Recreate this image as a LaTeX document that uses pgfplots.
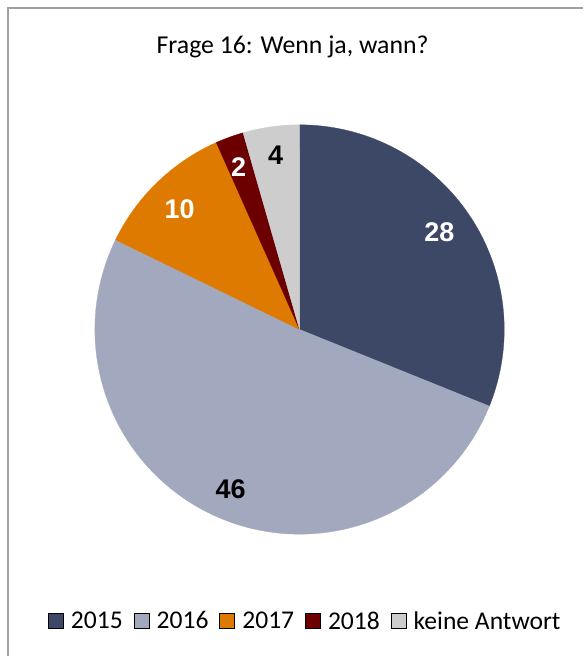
\documentclass[border=0pt]{standalone}
\usepackage{pgfplots}
\pgfplotsset{compat=1.18}
\usepackage{fontspec}
\setmainfont{Carlito}
\newfontfamily\labfont{Liberation Sans}
\definecolor{cA}{HTML}{3C4866}
\definecolor{cB}{HTML}{A2A8BE}
\definecolor{cC}{HTML}{DF7A00}
\definecolor{cD}{HTML}{6C0000}
\definecolor{cE}{HTML}{CDCDCD}
\definecolor{frame}{HTML}{A0A0A0}
% values
\def\vA{28}\def\vB{46}\def\vC{10}\def\vD{2}\def\vE{4}
\pgfmathsetmacro\tot{\vA+\vB+\vC+\vD+\vE}
\pgfmathsetmacro\aA{90}
\pgfmathsetmacro\aB{\aA-(\vA/\tot)*360}
\pgfmathsetmacro\aC{\aB-(\vB/\tot)*360}
\pgfmathsetmacro\aD{\aC-(\vC/\tot)*360}
\pgfmathsetmacro\aE{\aD-(\vD/\tot)*360}
\pgfmathsetmacro\aF{\aE-(\vE/\tot)*360}
\def\cx{300}\def\cy{330}\def\R{205}
\begin{document}
\begin{tikzpicture}
\begin{axis}[width=584pt,height=657pt,scale only axis,
  xmin=0,xmax=584,ymin=0,ymax=657,y dir=reverse,hide axis,clip=false,
  legend columns=5,
  legend image code/.code={\fill[#1] (0pt,-7.5pt) rectangle (15pt,7.5pt);},
  legend style={draw=none,fill=none,inner sep=0pt,at={(axis cs:48,622)},anchor=west,
    font=\fontsize{25.6}{30}\selectfont,
    nodes={inner sep=0pt},
    /tikz/every odd column/.append style={column sep=7.5pt},
    /tikz/every even column/.append style={column sep=11pt}},
]
\addplot[forget plot,draw=none] coordinates {(0,0) (584,657)};
\addplot[forget plot,draw=frame,line width=2pt] coordinates {(8,657) (8,8) (584,8)};
\addplot[forget plot,fill=cA,draw=cA,line width=0.3pt,domain=\aB:\aA,samples=80,variable=\t]
  ({\cx+\R*cos(\t)},{\cy-\R*sin(\t)}) -- (axis cs:\cx,\cy) -- cycle;
\addplot[forget plot,fill=cB,draw=cB,line width=0.3pt,domain=\aC:\aB,samples=120,variable=\t]
  ({\cx+\R*cos(\t)},{\cy-\R*sin(\t)}) -- (axis cs:\cx,\cy) -- cycle;
\addplot[forget plot,fill=cC,draw=cC,line width=0.3pt,domain=\aD:\aC,samples=40,variable=\t]
  ({\cx+\R*cos(\t)},{\cy-\R*sin(\t)}) -- (axis cs:\cx,\cy) -- cycle;
\addplot[forget plot,fill=cD,draw=cD,line width=0.3pt,domain=\aE:\aD,samples=12,variable=\t]
  ({\cx+\R*cos(\t)},{\cy-\R*sin(\t)}) -- (axis cs:\cx,\cy) -- cycle;
\addplot[forget plot,fill=cE,draw=cE,line width=0.3pt,domain=\aF:\aE,samples=20,variable=\t]
  ({\cx+\R*cos(\t)},{\cy-\R*sin(\t)}) -- (axis cs:\cx,\cy) -- cycle;
\node at (axis cs:293,47) {\fontsize{25.8}{30}\selectfont Frage 16: Wenn ja, wann?};
\node[text=white] at (axis cs:440,233) {\labfont\bfseries\fontsize{27}{30}\selectfont 28};
\node[text=black] at (axis cs:231,490) {\labfont\bfseries\fontsize{27}{30}\selectfont 46};
\node[text=white] at (axis cs:180,210) {\labfont\bfseries\fontsize{27}{30}\selectfont 10};
\node[text=white] at (axis cs:239,167) {\labfont\bfseries\fontsize{27}{30}\selectfont 2};
\node[text=black] at (axis cs:276,155) {\labfont\bfseries\fontsize{27}{30}\selectfont 4};
\addlegendimage{fill=cA}
\addlegendimage{fill=cB}
\addlegendimage{fill=cC}
\addlegendimage{fill=cD}
\addlegendimage{fill=cE}
\legend{2015,2016,2017,2018,keine Antwort}
\end{axis}
\end{tikzpicture}
\end{document}
